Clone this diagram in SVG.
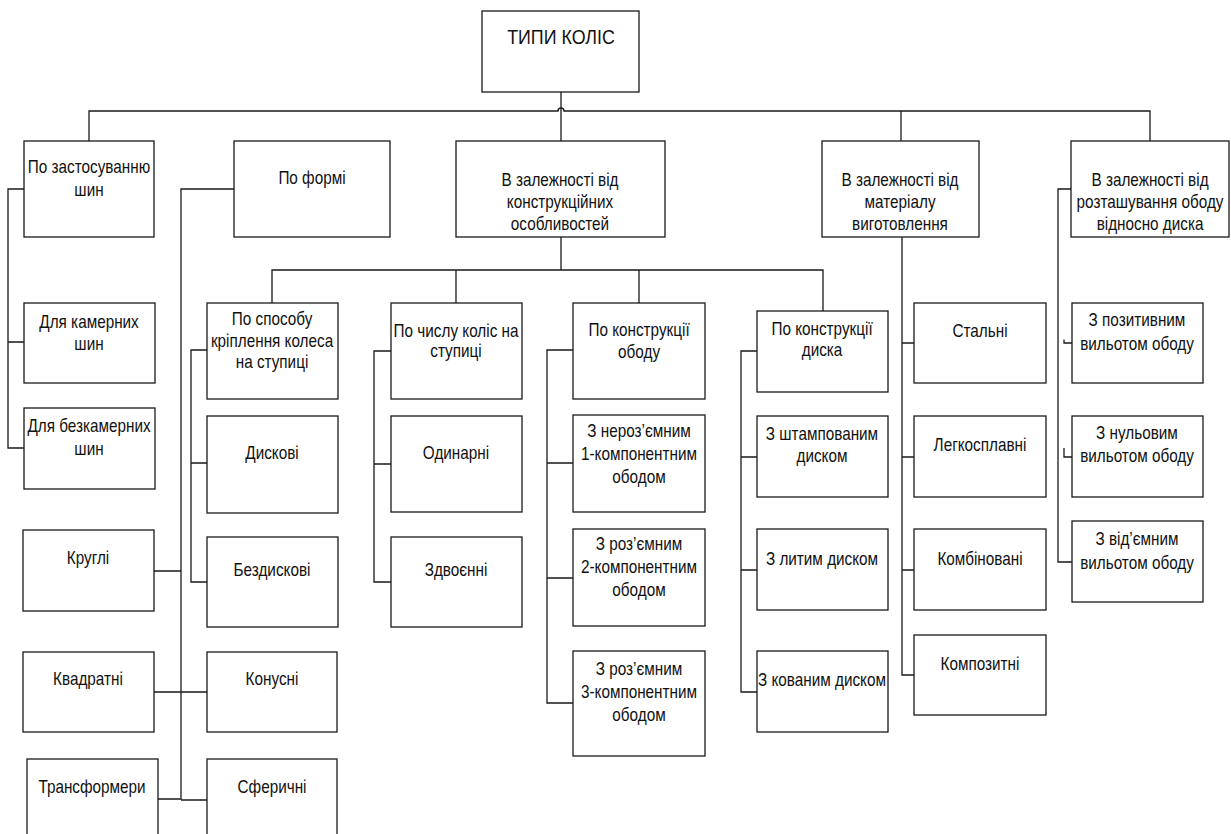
<svg xmlns="http://www.w3.org/2000/svg" width="1231" height="834" viewBox="0 0 1231 834">
<style>
.b{fill:#fff;stroke:#1a1a1a;stroke-width:1.3}
.c{fill:none;stroke:#1a1a1a;stroke-width:1.3}
text{font-family:"Liberation Sans",Arial,sans-serif;font-size:18px;fill:#111;text-anchor:middle;transform-box:fill-box;transform-origin:center;transform:scaleX(0.85)}
.t{font-size:21px}
</style>
<rect width="1231" height="834" fill="#fff"/>
<g id="connectors">
<path class="c" d="M561,92 V141"/>
<path class="c" d="M89,141 V111 H558 a3,3 0 0 1 6,0 H1150 V141"/>
<path class="c" d="M901,111 V141"/>
<path class="c" d="M561,237 V270"/>
<path class="c" d="M272,303 V270 H823 V311"/>
<path class="c" d="M456,270 V303"/>
<path class="c" d="M639,270 V303"/>
<path class="c" d="M24,189 H8 V448 H24 M8,342 H24"/>
<path class="c" d="M234,189 H181 V799 H158 M154,571 H181 M154,692 H207 M181,800 H207"/>
<path class="c" d="M207,350 H191 V582 H207 M191,463 H207"/>
<path class="c" d="M391,351 H374 V582 H391 M374,464 H391"/>
<path class="c" d="M573,350 H547 V703 H573 M547,463 H573 M547,578 H573"/>
<path class="c" d="M757,351 H741 V692 H757 M741,457 H757 M741,570 H757"/>
<path class="c" d="M902,237 V675 H914 M902,343 H914 M902,457 H914 M902,570 H914"/>
<path class="c" d="M1071,189 H1058 V562 H1072 M1064,339.5 V343 H1072 M1064,448 V457 H1072"/>
</g>
<g id="root"><rect class="b" x="482" y="11" width="157" height="81"/><text class="t" x="561" y="44">ТИПИ КОЛІС</text></g>
<g id="n1"><rect class="b" x="24" y="141" width="130" height="96"/><text x="89" y="173.5">По застосуванню</text><text x="89" y="196">шин</text></g>
<g id="n2"><rect class="b" x="234" y="141" width="156" height="96"/><text x="312" y="184.5">По формі</text></g>
<g id="n3"><rect class="b" x="456" y="141" width="209" height="96"/><text x="560" y="186.5">В залежності від</text><text x="560" y="208.5">конструкційних</text><text x="560" y="230">особливостей</text></g>
<g id="n4"><rect class="b" x="822" y="141" width="157" height="96"/><text x="900" y="186.5">В залежності від</text><text x="900" y="208.5">матеріалу</text><text x="900" y="230.5">виготовлення</text></g>
<g id="n5"><rect class="b" x="1071" y="141" width="158" height="96"/><text x="1150" y="186.5">В залежності від</text><text x="1150" y="208.5">розташування ободу</text><text x="1150" y="230.5">відносно диска</text></g>
<g id="n1a"><rect class="b" x="24" y="303" width="131" height="80"/><text x="89" y="328">Для камерних</text><text x="89" y="350">шин</text></g>
<g id="n1b"><rect class="b" x="24" y="408" width="131" height="81"/><text x="89" y="432">Для безкамерних</text><text x="89" y="455">шин</text></g>
<g id="n2a"><rect class="b" x="23" y="530" width="131" height="81"/><text x="88" y="564.5">Круглі</text></g>
<g id="n2b"><rect class="b" x="23" y="652" width="131" height="80"/><text x="88" y="685.5">Квадратні</text></g>
<g id="n2c"><rect class="b" x="27" y="759" width="131" height="90"/><text x="92" y="793.5">Трансформери</text></g>
<g id="n2d"><rect class="b" x="207" y="652" width="130" height="80"/><text x="272" y="685.5">Конусні</text></g>
<g id="n2e"><rect class="b" x="207" y="759" width="130" height="90"/><text x="272" y="793.5">Сферичні</text></g>
<g id="n3a"><rect class="b" x="207" y="303" width="131" height="96"/><text x="272" y="325.5">По способу</text><text x="272" y="347.5">кріплення колеса</text><text x="272" y="368.5">на ступиці</text></g>
<g id="n3a1"><rect class="b" x="207" y="416" width="131" height="97"/><text x="272" y="459.5">Дискові</text></g>
<g id="n3a2"><rect class="b" x="207" y="537" width="131" height="90"/><text x="272" y="576.5">Бездискові</text></g>
<g id="n3b"><rect class="b" x="391" y="303" width="131" height="96"/><text x="456" y="337">По числу коліс на</text><text x="456" y="357">ступиці</text></g>
<g id="n3b1"><rect class="b" x="391" y="416" width="131" height="96"/><text x="456" y="459.5">Одинарні</text></g>
<g id="n3b2"><rect class="b" x="391" y="537" width="131" height="90"/><text x="456" y="576.5">Здвоєнні</text></g>
<g id="n3c"><rect class="b" x="573" y="303" width="132" height="96"/><text x="639" y="336.5">По конструкції</text><text x="639" y="358">ободу</text></g>
<g id="n3c1"><rect class="b" x="573" y="415" width="132" height="97"/><text x="639" y="437">З нероз’ємним</text><text x="639" y="460">1-компонентним</text><text x="639" y="483">ободом</text></g>
<g id="n3c2"><rect class="b" x="573" y="529" width="132" height="97"/><text x="639" y="550">З роз’ємним</text><text x="639" y="573">2-компонентним</text><text x="639" y="596">ободом</text></g>
<g id="n3c3"><rect class="b" x="573" y="651" width="132" height="105"/><text x="639" y="675">З роз’ємним</text><text x="639" y="698">3-компонентним</text><text x="639" y="721.5">ободом</text></g>
<g id="n3d"><rect class="b" x="757" y="311" width="131" height="81"/><text x="822" y="335">По конструкції</text><text x="822" y="356.5">диска</text></g>
<g id="n3d1"><rect class="b" x="757" y="416" width="131" height="81"/><text x="822" y="440">З штампованим</text><text x="822" y="462.5">диском</text></g>
<g id="n3d2"><rect class="b" x="757" y="529" width="131" height="81"/><text x="822" y="565">З литим диском</text></g>
<g id="n3d3"><rect class="b" x="757" y="651" width="131" height="81"/><text x="822" y="686.5">З кованим диском</text></g>
<g id="n4a"><rect class="b" x="914" y="303" width="132" height="80"/><text x="980" y="337">Стальні</text></g>
<g id="n4b"><rect class="b" x="914" y="416" width="132" height="81"/><text x="980" y="451">Легкосплавні</text></g>
<g id="n4c"><rect class="b" x="914" y="529" width="132" height="81"/><text x="980" y="565">Комбіновані</text></g>
<g id="n4d"><rect class="b" x="914" y="635" width="132" height="80"/><text x="980" y="670">Композитні</text></g>
<g id="n5a"><rect class="b" x="1072" y="303" width="131" height="80"/><text x="1137" y="326.5">З позитивним</text><text x="1137" y="350">вильотом ободу</text></g>
<g id="n5b"><rect class="b" x="1072" y="416" width="131" height="81"/><text x="1137" y="439">З нульовим</text><text x="1137" y="462.5">вильотом ободу</text></g>
<g id="n5c"><rect class="b" x="1072" y="521" width="131" height="81"/><text x="1137" y="545">З від’ємним</text><text x="1137" y="569">вильотом ободу</text></g>
</svg>
